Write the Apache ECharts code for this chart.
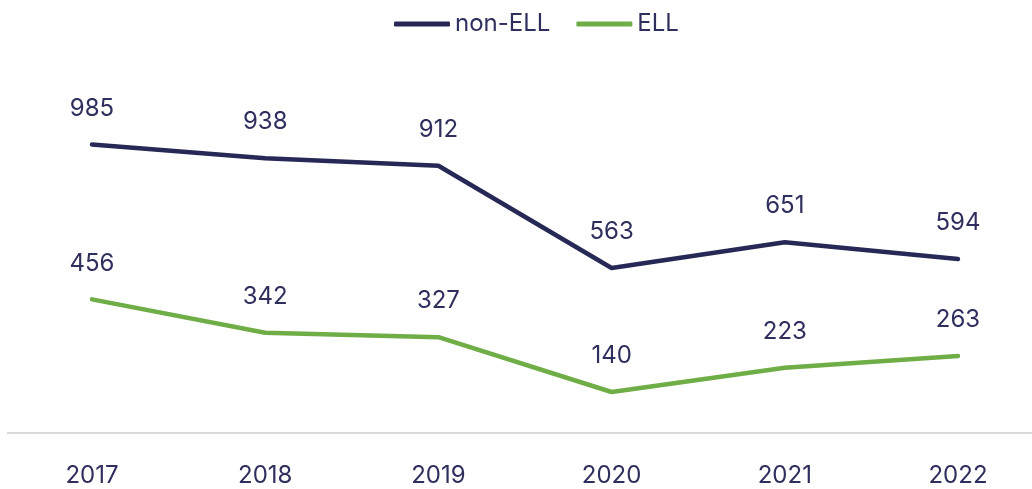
<!DOCTYPE html>
<html>
<head>
<meta charset="utf-8">
<script src="https://cdn.jsdelivr.net/npm/echarts@6/dist/echarts.min.js"></script>
<style>
  html, body { margin: 0; padding: 0; background: #fff; }
  #chart { width: 1032px; height: 489px; }
</style>
</head>
<body>
<div id="chart"></div>
<script>
const years = ["2017", "2018", "2019", "2020", "2021", "2022"];
const nonEll = [985, 938, 912, 563, 651, 594];
const ell = [456, 342, 327, 140, 223, 263];

const textColor = "#2f2f5e";
const fontFamily = "Inter, 'Noto Sans', sans-serif";

const chart = echarts.init(document.getElementById("chart"));

function lineSeries(name, data, color) {
  return {
    name: name,
    type: "line",
    data: data,
    color: color,
    symbol: "circle",
    symbolSize: 0.1,
    showSymbol: true,
    lineStyle: { width: 4.5, cap: "round", join: "round" },
    label: {
      show: true,
      position: "top",
      distance: 24,
      fontSize: 24,
      color: textColor,
      fontFamily: fontFamily,
    },
  };
}

const option = {
  animation: false,
  legend: {
    top: 7,
    left: 389,
    itemWidth: 56,
    itemHeight: 5,
    itemGap: 26,
    icon: "roundRect",
    textStyle: { fontSize: 24, color: textColor, fontFamily: fontFamily, padding: [0, 0, 0, 0] },
    data: ["non-ELL", "ELL"],
  },
  grid: { left: 92, right: 74, top: 140, bottom: 56 },
  xAxis: {
    type: "category",
    data: years,
    boundaryGap: false,
    axisLine: { show: false },
    axisTick: { show: false },
    axisLabel: { fontSize: 24, color: textColor, fontFamily: fontFamily, margin: 31 },
  },
  yAxis: {
    type: "value",
    min: 0,
    max: 1000,
    show: false,
  },
  graphic: [
    {
      type: "line",
      shape: { x1: 7, y1: 433, x2: 1032, y2: 433 },
      style: { stroke: "#d9d9d9", lineWidth: 2 },
      z: 0,
    },
  ],
  series: [
    lineSeries("non-ELL", nonEll, "#262856"),
    lineSeries("ELL", ell, "#6fad46"),
  ],
};

chart.setOption(option);
</script>
</body>
</html>
